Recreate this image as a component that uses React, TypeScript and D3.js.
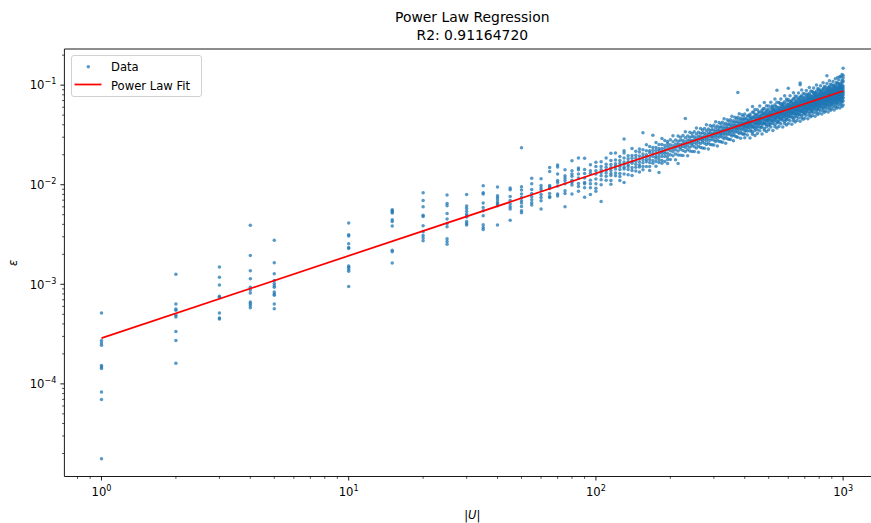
import React from 'react';
import * as d3 from 'd3';

const W = 871;
const H = 523;

const titleLines = ['Power Law Regression', 'R2: 0.91164720'];
const xLabelParts = ['|', 'U', '|'];
const yLabel = 'ε';
const legendLabels = ['Data', 'Power Law Fit'];
const xTickExps = [0, 1, 2, 3];
const yTickExps = [-4, -3, -2, -1];

// fitted power law (two end points of the straight log-log line)
const fitX = [1, 1000];
const fitEps = [2.88e-4, 0.0873];

// sparse columns: |U| value and the ε values observed there
const sparseColumns: [number, number[]][] = [
  [1, [5.15e-4, 2.72e-4, 2.57e-4, 2.44e-4, 1.53e-4, 1.48e-4, 1.43e-4, 8.28e-5, 6.98e-5, 1.77e-5]],
  [2, [1.26e-3, 6.34e-4, 5.65e-4, 5.48e-4, 4.88e-4, 4.7e-4, 3.35e-4, 2.72e-4, 1.61e-4]],
  [3, [1.49e-3, 1.18e-3, 9.84e-4, 7.57e-4, 7.4e-4, 5.15e-4, 4.59e-4, 4.48e-4]],
  [4, [3.92e-3, 1.95e-3, 1.37e-3, 1.14e-3, 9.33e-4, 8.77e-4, 8.18e-4, 6.64e-4, 6.4e-4, 6.11e-4, 5.83e-4]],
  [5, [2.77e-3, 1.65e-3, 1.28e-3, 1.09e-3, 1.02e-3, 9.7e-4, 9.33e-4, 8.37e-4, 8.0e-4, 7.75e-4, 6.34e-4, 5.69e-4]],
  [10, [4.12e-3, 3.14e-3, 3.05e-3, 2.55e-3, 2.34e-3, 2.29e-3, 1.53e-3, 1.48e-3, 1.42e-3, 1.35e-3, 9.5e-4]],
  [15, [5.61e-3, 5.48e-3, 5.31e-3, 5.19e-3, 4.45e-3, 4.28e-3, 3.84e-3, 2.2e-3, 2.12e-3, 1.64e-3]],
  [20, [8.31e-3, 6.95e-3, 6.01e-3, 4.95e-3, 4.8e-3, 3.87e-3, 3.37e-3, 3.1e-3, 2.91e-3, 2.74e-3]],
  [25, [7.87e-3, 6.49e-3, 6.15e-3, 5.15e-3, 4.52e-3, 4.08e-3, 3.78e-3, 2.87e-3, 2.69e-3, 2.53e-3]],
  [30, [8.0e-3, 6.1e-3, 5.78e-3, 5.43e-3, 5.07e-3, 4.88e-3, 4.73e-3, 4.28e-3, 4.08e-3, 3.94e-3]],
  [35, [9.77e-3, 8.31e-3, 8.05e-3, 6.55e-3, 5.91e-3, 5.48e-3, 4.88e-3, 3.96e-3, 3.72e-3, 3.55e-3]],
  [40, [9.48e-3, 7.75e-3, 7.4e-3, 7.02e-3, 6.64e-3, 6.4e-3, 6.15e-3, 3.94e-3]],
  [45, [9.27e-3, 8.91e-3, 7.62e-3, 6.95e-3, 6.4e-3, 6.01e-3, 5.7e-3, 4.41e-3]],
  [50, [2.35e-2, 9.55e-3, 8.85e-3, 8.05e-3, 7.45e-3, 6.9e-3, 6.55e-3, 6.05e-3, 5.48e-3, 5.24e-3]],
  [55, [1.16e-2, 1.02e-2, 8.98e-3, 8.18e-3, 7.57e-3, 7.06e-3, 6.59e-3, 6.25e-3]],
  [60, [1.15e-2, 9.84e-3, 9.27e-3, 8.85e-3, 8.0e-3, 7.45e-3, 6.9e-3, 5.7e-3]],
  [65, [1.49e-2, 1.36e-2, 9.84e-3, 9.55e-3, 9.18e-3, 8.18e-3, 7.62e-3, 7.45e-3]],
  [70, [1.58e-2, 1.51e-2, 1.28e-2, 1.1e-2, 1.05e-2, 9.7e-3, 8.05e-3, 7.69e-3]],
  [75, [1.41e-2, 1.23e-2, 1.17e-2, 1.1e-2, 1.02e-2, 8.71e-3, 8.18e-3, 6.01e-3]],
  [80, [1.74e-2, 1.38e-2, 1.28e-2, 1.22e-2, 1.11e-2, 1.05e-2, 9.93e-3, 8.05e-3]],
  [85, [0.0185, 0.0147, 0.0141, 0.0128, 0.0117, 0.0103, 0.0096, 0.0086]],
  [90, [0.0184, 0.0142, 0.013, 0.0117, 0.0105, 0.0102, 0.0093, 0.0075]],
  [95, [0.0159, 0.0138, 0.013, 0.0111, 0.0102, 0.0093, 0.008]],
  [100, [0.0168, 0.0152, 0.0138, 0.0128, 0.0114, 0.0102, 0.0092, 0.0086]],
];

const midColumns: [number, number[]][] = [
  [105, [0.017, 0.0152, 0.0141, 0.0132, 0.0123, 0.0112, 0.01, 0.0068]],
  [110, [0.0185, 0.0161, 0.015, 0.014, 0.0131, 0.0122, 0.0111]],
  [115, [0.0207, 0.0175, 0.016, 0.0149, 0.0139, 0.013, 0.0124, 0.011, 0.0101]],
  [120, [0.0208, 0.0177, 0.0162, 0.0154, 0.0144, 0.0131, 0.0123]],
  [125, [0.0192, 0.0175, 0.0163, 0.0152, 0.0142, 0.013, 0.0121, 0.011]],
  [130, [0.0288, 0.0219, 0.0208, 0.0185, 0.0169, 0.0161, 0.015, 0.0144, 0.0128, 0.0105]],
  [135, [0.0195, 0.0182, 0.017, 0.0159, 0.0152, 0.0142, 0.0126]],
  [140, [0.0231, 0.0197, 0.0184, 0.0171, 0.0164, 0.0149, 0.0139, 0.0124]],
  [145, [0.0217, 0.0198, 0.0185, 0.0172, 0.0161, 0.015, 0.0137]],
  [150, [0.0228, 0.0213, 0.0194, 0.0181, 0.0169, 0.0158, 0.0151, 0.0134]],
  [155, [0.0332, 0.0224, 0.0204, 0.0191, 0.0178, 0.0166, 0.0152, 0.0141]],
  [160, [0.0252, 0.022, 0.02, 0.0191, 0.0179, 0.017, 0.0152]],
  [165, [0.0242, 0.022, 0.021, 0.0192, 0.0179, 0.0167, 0.0152, 0.0139]],
  [170, [0.0314, 0.0236, 0.0221, 0.0206, 0.0192, 0.0175, 0.0164]],
  [175, [0.0265, 0.0237, 0.0221, 0.0206, 0.0192, 0.0184, 0.0171, 0.0153]],
  [180, [0.0254, 0.0231, 0.0221, 0.0206, 0.0192, 0.0179, 0.0167, 0.0133]],
  [185, [0.0291, 0.0254, 0.0231, 0.0216, 0.0206, 0.0192, 0.0175, 0.0164]],
  [190, [0.0278, 0.0248, 0.0231, 0.0216, 0.0206, 0.0192, 0.0171]],
  [195, [0.0271, 0.0259, 0.0242, 0.0225, 0.0206, 0.0192, 0.0179, 0.0163]],
  [200, [0.0283, 0.0252, 0.0235, 0.022, 0.02, 0.0179]],
  [205, [0.031, 0.027, 0.0246, 0.0229, 0.0214, 0.0195]],
  [210, [0.0282, 0.0257, 0.024, 0.0224, 0.0204, 0.0178]],
  [215, [0.0308, 0.0274, 0.0256, 0.0239, 0.0218, 0.0199, 0.0163]],
  [220, [0.0299, 0.0279, 0.0255, 0.0238, 0.0227, 0.0198]],
  [225, [0.0312, 0.0278, 0.0259, 0.0242, 0.0221, 0.0197]],
  [230, [0.0462, 0.034, 0.0297, 0.027, 0.0252, 0.0236, 0.0215]],
  [235, [0.0309, 0.0282, 0.0263, 0.0245, 0.0224, 0.0195]],
  [240, [0.0337, 0.03, 0.028, 0.0261, 0.0238, 0.0218]],
  [245, [0.0327, 0.0305, 0.0278, 0.026, 0.0248, 0.0216]],
  [250, [0.034, 0.0303, 0.0283, 0.0264, 0.0241, 0.0215]],
  [255, [0.0371, 0.0323, 0.0295, 0.0275, 0.0257, 0.0234]],
  [260, [0.0336, 0.0306, 0.0286, 0.0267, 0.0243, 0.0212]],
  [265, [0.0366, 0.0326, 0.0304, 0.0284, 0.0259, 0.0236]],
  [270, [0.0355, 0.0331, 0.0302, 0.0282, 0.0269, 0.0234]],
  [275, [0.0368, 0.0328, 0.0306, 0.0286, 0.0261, 0.0232]],
  [280, [0.0401, 0.0349, 0.0318, 0.0297, 0.0277, 0.0253]],
  [285, [0.0362, 0.0331, 0.0309, 0.0288, 0.0263, 0.0229]],
  [290, [0.0394, 0.0351, 0.0328, 0.0306, 0.0279, 0.0254]],
  [295, [0.0382, 0.0356, 0.0325, 0.0303, 0.0289, 0.0252]],
  [300, [0.0396, 0.0353, 0.0329, 0.0307, 0.028, 0.025]],
  [305, [0.043, 0.0374, 0.0342, 0.0319, 0.0297, 0.0271]],
  [310, [0.0389, 0.0355, 0.0331, 0.0309, 0.0281, 0.0245]],
  [315, [0.0422, 0.0376, 0.0351, 0.0327, 0.0299, 0.0272]],
  [320, [0.0408, 0.0381, 0.0347, 0.0324, 0.031, 0.027]],
  [325, [0.0423, 0.0377, 0.0352, 0.0328, 0.0299, 0.0267]],
  [330, [0.0459, 0.04, 0.0365, 0.034, 0.0318, 0.029]],
  [335, [0.0414, 0.0378, 0.0353, 0.0329, 0.03, 0.0261]],
  [340, [0.0449, 0.04, 0.0374, 0.0349, 0.0318, 0.029]],
  [345, [0.0434, 0.0405, 0.037, 0.0345, 0.0329, 0.0287]],
  [350, [0.045, 0.0401, 0.0374, 0.0349, 0.0318, 0.0284]],
  [355, [0.0488, 0.0425, 0.0387, 0.0361, 0.0337, 0.0308]],
  [360, [0.044, 0.0401, 0.0374, 0.0349, 0.0318, 0.0277]],
  [365, [0.0477, 0.0425, 0.0396, 0.037, 0.0337, 0.0308]],
  [370, [0.046, 0.0429, 0.0392, 0.0365, 0.0349, 0.0304]],
  [375, [0.0845, 0.0476, 0.0424, 0.0396, 0.037, 0.0337, 0.03]],
  [380, [0.0516, 0.0449, 0.041, 0.0382, 0.0357, 0.0326]],
  [385, [0.0465, 0.0424, 0.0396, 0.0369, 0.0337, 0.0293]],
  [390, [0.0503, 0.0448, 0.0418, 0.0391, 0.0356, 0.0325]],
  [395, [0.0486, 0.0453, 0.0413, 0.0386, 0.0368, 0.0321]],
];

const denseColumns: [number, number[]][] = [
  [400, [0.0514, 0.0458, 0.0427, 0.0408, 0.039, 0.0372, 0.0347, 0.0324, 0.0296]],
  [410, [0.0562, 0.049, 0.0447, 0.0426, 0.0407, 0.0389, 0.0371, 0.0347, 0.0316]],
  [420, [0.0511, 0.0488, 0.0466, 0.0435, 0.0415, 0.0397, 0.037, 0.0346, 0.0294]],
  [430, [0.0612, 0.0533, 0.0475, 0.0454, 0.0414, 0.0386, 0.0377, 0.0336, 0.0321]],
  [440, [0.0569, 0.0507, 0.0474, 0.0442, 0.0412, 0.0403, 0.0367, 0.0351, 0.0313]],
  [450, [0.0566, 0.0505, 0.0471, 0.045, 0.043, 0.041, 0.0383, 0.0357, 0.0326]],
  [460, [0.0618, 0.0538, 0.0491, 0.0469, 0.0448, 0.0428, 0.0408, 0.0381, 0.0348]],
  [470, [0.0561, 0.0536, 0.0511, 0.0477, 0.0456, 0.0435, 0.0406, 0.0379, 0.0323]],
  [480, [0.0671, 0.0584, 0.052, 0.0497, 0.0453, 0.0423, 0.0413, 0.0368, 0.0352]],
  [490, [0.0622, 0.0554, 0.0518, 0.0483, 0.045, 0.044, 0.0402, 0.0383, 0.0342]],
  [500, [0.0618, 0.0551, 0.0514, 0.0491, 0.0469, 0.0448, 0.0418, 0.039, 0.0356]],
  [510, [0.0673, 0.0587, 0.0535, 0.0511, 0.0488, 0.0466, 0.0445, 0.0415, 0.0379]],
  [520, [0.061, 0.0582, 0.0556, 0.0519, 0.0496, 0.0473, 0.0442, 0.0412, 0.0351]],
  [530, [0.0728, 0.0634, 0.0565, 0.054, 0.0492, 0.0459, 0.0449, 0.04, 0.0382]],
  [540, [0.089, 0.0674, 0.0601, 0.0561, 0.0523, 0.0488, 0.0477, 0.0435, 0.0416, 0.0371]],
  [550, [0.0669, 0.0596, 0.0556, 0.0531, 0.0507, 0.0484, 0.0452, 0.0422, 0.0385]],
  [560, [0.0727, 0.0634, 0.0578, 0.0552, 0.0527, 0.0503, 0.048, 0.0449, 0.0409]],
  [570, [0.0658, 0.0628, 0.06, 0.056, 0.0535, 0.051, 0.0477, 0.0445, 0.0379]],
  [580, [0.0784, 0.0683, 0.0608, 0.0581, 0.053, 0.0495, 0.0483, 0.0431, 0.0411]],
  [590, [0.0725, 0.0646, 0.0604, 0.0563, 0.0525, 0.0513, 0.0468, 0.0447, 0.0399]],
  [600, [0.093, 0.0719, 0.0641, 0.0598, 0.0571, 0.0545, 0.0521, 0.0486, 0.0453, 0.0413]],
  [610, [0.0781, 0.068, 0.062, 0.0592, 0.0565, 0.054, 0.0516, 0.0482, 0.0439]],
  [620, [0.0705, 0.0673, 0.0643, 0.06, 0.0573, 0.0547, 0.0511, 0.0477, 0.0406]],
  [630, [0.084, 0.0731, 0.0651, 0.0622, 0.0568, 0.053, 0.0518, 0.0461, 0.044]],
  [640, [0.0776, 0.0691, 0.0646, 0.0602, 0.0562, 0.0549, 0.0501, 0.0478, 0.0426]],
  [650, [0.0768, 0.0684, 0.0638, 0.061, 0.0582, 0.0556, 0.0519, 0.0484, 0.0441]],
  [660, [0.0833, 0.0726, 0.0662, 0.0632, 0.0603, 0.0576, 0.055, 0.0514, 0.0469]],
  [670, [0.105, 0.101, 0.0752, 0.0718, 0.0685, 0.064, 0.0611, 0.0583, 0.0545, 0.0508, 0.0433]],
  [680, [0.0894, 0.0779, 0.0694, 0.0663, 0.0605, 0.0564, 0.0551, 0.0491, 0.0469]],
  [690, [0.0825, 0.0736, 0.0687, 0.0641, 0.0598, 0.0584, 0.0533, 0.0509, 0.0454]],
  [700, [0.0816, 0.0727, 0.0679, 0.0648, 0.0619, 0.0591, 0.0552, 0.0515, 0.0469]],
  [710, [0.0885, 0.0771, 0.0703, 0.0671, 0.0641, 0.0612, 0.0584, 0.0546, 0.0498]],
  [720, [0.0798, 0.0762, 0.0727, 0.0679, 0.0648, 0.0619, 0.0578, 0.054, 0.0459]],
  [730, [0.0948, 0.0826, 0.0736, 0.0703, 0.0641, 0.0598, 0.0585, 0.0521, 0.0497]],
  [740, [0.0874, 0.0779, 0.0728, 0.0679, 0.0633, 0.0619, 0.0565, 0.0539, 0.0481]],
  [750, [0.0864, 0.077, 0.0719, 0.0687, 0.0656, 0.0626, 0.0584, 0.0545, 0.0497]],
  [760, [0.0936, 0.0816, 0.0744, 0.071, 0.0678, 0.0648, 0.0618, 0.0577, 0.0527]],
  [770, [0.0843, 0.0805, 0.0769, 0.0718, 0.0685, 0.0655, 0.0611, 0.057, 0.0486]],
  [780, [0.1002, 0.0872, 0.0777, 0.0742, 0.0677, 0.0632, 0.0618, 0.055, 0.0525]],
  [790, [0.0923, 0.0823, 0.0768, 0.0717, 0.0669, 0.0654, 0.0596, 0.0569, 0.0507]],
  [800, [0.0912, 0.0813, 0.0758, 0.0724, 0.0692, 0.0661, 0.0616, 0.0575, 0.0524]],
  [810, [0.0987, 0.086, 0.0784, 0.0749, 0.0715, 0.0683, 0.0652, 0.0609, 0.0555]],
  [820, [0.0889, 0.0849, 0.081, 0.0756, 0.0722, 0.069, 0.0644, 0.0601, 0.0512]],
  [830, [0.1055, 0.0918, 0.0818, 0.0782, 0.0713, 0.0665, 0.065, 0.0579, 0.0553]],
  [840, [0.0971, 0.0866, 0.0808, 0.0754, 0.0704, 0.0688, 0.0627, 0.0599, 0.0534]],
  [850, [0.0959, 0.0854, 0.0797, 0.0761, 0.0727, 0.0694, 0.0648, 0.0605, 0.0551]],
  [860, [0.124, 0.1037, 0.0903, 0.0824, 0.0786, 0.0751, 0.0717, 0.0685, 0.064, 0.0584]],
  [870, [0.0933, 0.0891, 0.0851, 0.0794, 0.0758, 0.0724, 0.0676, 0.0631, 0.0537]],
  [880, [0.1107, 0.0964, 0.0859, 0.082, 0.0748, 0.0698, 0.0683, 0.0608, 0.0581]],
  [890, [0.1019, 0.0908, 0.0848, 0.0791, 0.0738, 0.0721, 0.0658, 0.0628, 0.056]],
  [900, [0.1005, 0.0896, 0.0836, 0.0798, 0.0762, 0.0728, 0.0679, 0.0634, 0.0578]],
  [910, [0.1087, 0.0947, 0.0864, 0.0824, 0.0787, 0.0752, 0.0718, 0.067, 0.0611]],
  [920, [0.0977, 0.0933, 0.0891, 0.0832, 0.0794, 0.0758, 0.0708, 0.0661, 0.0563]],
  [930, [0.1159, 0.1009, 0.0899, 0.0859, 0.0783, 0.0731, 0.0714, 0.0636, 0.0608]],
  [940, [0.1066, 0.095, 0.0887, 0.0828, 0.0772, 0.0755, 0.0688, 0.0657, 0.0586]],
  [950, [0.119, 0.1051, 0.0937, 0.0874, 0.0835, 0.0797, 0.0761, 0.071, 0.0663, 0.0604]],
  [960, [0.1136, 0.0989, 0.0903, 0.0861, 0.0823, 0.0786, 0.075, 0.0701, 0.0639]],
  [970, [0.122, 0.1021, 0.0975, 0.0931, 0.0869, 0.083, 0.0792, 0.074, 0.069, 0.0588]],
  [980, [0.121, 0.1053, 0.0939, 0.0897, 0.0818, 0.0763, 0.0746, 0.0665, 0.0635]],
  [990, [0.128, 0.1113, 0.0992, 0.0926, 0.0864, 0.0806, 0.0788, 0.0719, 0.0686, 0.0612]],
  [1000, [0.148, 0.125, 0.118, 0.1099, 0.098, 0.0914, 0.0873, 0.0834, 0.0796, 0.0743, 0.0693, 0.0632]],
];

// in-between sizes in the dense part of the cloud
const offsetColumns: [number, number[]][] = [
  [405, [0.0463, 0.0422, 0.0385, 0.0351]],
  [415, [0.0494, 0.0441, 0.0402, 0.0375]],
  [425, [0.046, 0.0429, 0.0391, 0.0349]],
  [435, [0.0538, 0.048, 0.0428, 0.0381]],
  [445, [0.05, 0.0456, 0.0416, 0.0379]],
  [455, [0.0533, 0.0475, 0.0434, 0.0405]],
  [465, [0.0496, 0.0462, 0.0422, 0.0376]],
  [475, [0.0579, 0.0516, 0.046, 0.041]],
  [485, [0.0537, 0.049, 0.0447, 0.0407]],
  [495, [0.0572, 0.051, 0.0465, 0.0434]],
  [505, [0.0531, 0.0495, 0.0452, 0.0403]],
  [515, [0.0619, 0.0552, 0.0492, 0.0438]],
  [525, [0.0574, 0.0523, 0.0477, 0.0435]],
  [535, [0.061, 0.0544, 0.0496, 0.0463]],
  [545, [0.0565, 0.0527, 0.0481, 0.0429]],
  [555, [0.0658, 0.0587, 0.0523, 0.0466]],
  [565, [0.0609, 0.0556, 0.0507, 0.0462]],
  [575, [0.0648, 0.0577, 0.0526, 0.0491]],
  [585, [0.0599, 0.0559, 0.051, 0.0455]],
  [595, [0.0697, 0.0621, 0.0554, 0.0494]],
  [605, [0.0645, 0.0588, 0.0536, 0.0489]],
  [615, [0.0685, 0.061, 0.0556, 0.0519]],
  [625, [0.0633, 0.0591, 0.0539, 0.048]],
  [635, [0.0736, 0.0656, 0.0585, 0.0521]],
  [645, [0.068, 0.062, 0.0565, 0.0516]],
  [655, [0.0721, 0.0643, 0.0586, 0.0547]],
  [665, [0.0666, 0.0622, 0.0567, 0.0505]],
  [675, [0.0774, 0.069, 0.0615, 0.0548]],
  [685, [0.0715, 0.0652, 0.0594, 0.0542]],
  [695, [0.0757, 0.0675, 0.0616, 0.0574]],
  [705, [0.0699, 0.0652, 0.0595, 0.053]],
  [715, [0.0812, 0.0723, 0.0645, 0.0575]],
  [725, [0.0749, 0.0683, 0.0623, 0.0568]],
  [735, [0.0793, 0.0707, 0.0645, 0.0601]],
  [745, [0.0732, 0.0683, 0.0623, 0.0555]],
  [755, [0.0849, 0.0757, 0.0674, 0.0601]],
  [765, [0.0783, 0.0714, 0.0651, 0.0594]],
  [775, [0.0829, 0.0739, 0.0674, 0.0629]],
  [785, [0.0764, 0.0713, 0.065, 0.058]],
  [795, [0.0886, 0.079, 0.0704, 0.0628]],
  [805, [0.0817, 0.0745, 0.0679, 0.062]],
  [815, [0.0864, 0.077, 0.0702, 0.0655]],
  [825, [0.0797, 0.0743, 0.0678, 0.0604]],
  [835, [0.0923, 0.0822, 0.0733, 0.0654]],
  [845, [0.085, 0.0775, 0.0707, 0.0645]],
  [855, [0.0899, 0.0801, 0.0731, 0.0682]],
  [865, [0.0828, 0.0773, 0.0705, 0.0628]],
  [875, [0.0959, 0.0855, 0.0762, 0.0679]],
  [885, [0.0883, 0.0805, 0.0735, 0.067]],
  [895, [0.0934, 0.0832, 0.0759, 0.0708]],
  [905, [0.086, 0.0802, 0.0731, 0.0652]],
  [915, [0.0995, 0.0887, 0.0791, 0.0705]],
  [925, [0.0916, 0.0835, 0.0762, 0.0695]],
  [935, [0.0968, 0.0863, 0.0787, 0.0734]],
  [945, [0.0891, 0.0831, 0.0758, 0.0676]],
  [955, [0.1031, 0.0919, 0.0819, 0.073]],
  [965, [0.0949, 0.0865, 0.0789, 0.072]],
  [975, [0.1002, 0.0893, 0.0815, 0.076]],
  [985, [0.0922, 0.086, 0.0785, 0.0699]],
  [995, [0.1068, 0.0952, 0.0848, 0.0756]],
];

const FONT = "'DejaVu Sans', sans-serif";
const FS = 11.6;

export default function App() {
  const left = 64.4;
  const right = 880.2;
  const top = 49;
  const bottom = 476.5;
  const x = d3.scaleLog().domain([Math.pow(10, -0.15), Math.pow(10, 3.15)]).range([left, right]);
  const y = d3.scaleLog().domain([Math.pow(10, -4.93), Math.pow(10, -0.637)]).range([bottom, top]);

  const points: { u: number; e: number }[] = [];
  [sparseColumns, midColumns, denseColumns, offsetColumns].forEach((cols) =>
    cols.forEach(([u, es]) => es.forEach((e) => points.push({ u, e })))
  );

  const [xd0, xd1] = x.domain();
  const [yd0, yd1] = y.domain();
  const minorX: number[] = [];
  for (let k = -1; k <= 3; k++) for (let m = 2; m <= 9; m++) {
    const v = m * Math.pow(10, k);
    if (v > xd0 && v < xd1) minorX.push(v);
  }
  const minorY: number[] = [];
  for (let k = -5; k <= -1; k++) for (let m = 2; m <= 9; m++) {
    const v = m * Math.pow(10, k);
    if (v > yd0 && v < yd1) minorY.push(v);
  }

  const line = d3.line<number>().x((_, i) => x(fitX[i])).y((d) => y(d));
  const cx = (left + right) / 2;
  const cy = (top + bottom) / 2;

  return (
    <svg width={W} height={H} style={{ position: 'absolute', left: 0, top: 0, background: '#fff' }} fontFamily={FONT}>
      <defs>
        <clipPath id="plot">
          <rect x={left} y={top} width={right - left} height={bottom - top} />
        </clipPath>
      </defs>
      <rect x={0} y={0} width={W} height={H} fill="#fff" />
      <g clipPath="url(#plot)">
        {points.map((p, i) => (
          <circle key={i} cx={x(p.u)} cy={y(p.e)} r={1.75} fill="#1f77b4" fillOpacity={0.75} />
        ))}
        <path d={line(fitEps) || ''} fill="none" stroke="#ff0000" strokeWidth={1.75} />
      </g>
      {/* spines */}
      <g stroke="#000" strokeWidth={0.9} fill="none">
        <line x1={left} y1={top} x2={left} y2={bottom} />
        <line x1={left} y1={bottom} x2={right} y2={bottom} />
        <line x1={left} y1={top} x2={right} y2={top} />
        <line x1={right} y1={top} x2={right} y2={bottom} />
      </g>
      {/* ticks */}
      <g stroke="#000" strokeWidth={0.9}>
        {xTickExps.map((k) => (
          <line key={'xM' + k} x1={x(Math.pow(10, k))} x2={x(Math.pow(10, k))} y1={bottom} y2={bottom + 4} />
        ))}
        {minorX.map((v, i) => (
          <line key={'xm' + i} x1={x(v)} x2={x(v)} y1={bottom} y2={bottom + 2.3} strokeWidth={0.7} />
        ))}
        {yTickExps.map((k) => (
          <line key={'yM' + k} y1={y(Math.pow(10, k))} y2={y(Math.pow(10, k))} x1={left} x2={left - 4} />
        ))}
        {minorY.map((v, i) => (
          <line key={'ym' + i} y1={y(v)} y2={y(v)} x1={left} x2={left - 2.3} strokeWidth={0.7} />
        ))}
      </g>
      <g fontSize={FS} fill="#000">
        {xTickExps.map((k) => (
          <text key={'xl' + k} x={x(Math.pow(10, k))} y={496} textAnchor="middle">
            10<tspan fontSize={8.1} dy={-5}>{String(k).replace('-', '\u2212')}</tspan>
          </text>
        ))}
        {yTickExps.map((k) => (
          <text key={'yl' + k} x={left - 8} y={y(Math.pow(10, k)) + 4.3} textAnchor="end">
            10<tspan fontSize={8.1} dy={-5}>{String(k).replace('-', '\u2212')}</tspan>
          </text>
        ))}
      </g>
      {/* axis labels */}
      <text x={cx} y={519} textAnchor="middle" fontSize={FS}>
        <tspan>{xLabelParts[0]}</tspan>
        <tspan fontStyle="italic">{xLabelParts[1]}</tspan>
        <tspan>{xLabelParts[2]}</tspan>
      </text>
      <text transform={`translate(16.5, ${cy}) rotate(-90)`} textAnchor="middle" fontSize={FS} fontStyle="italic">
        {yLabel}
      </text>
      {/* title */}
      {titleLines.map((t, i) => (
        <text key={t} x={cx} y={22 + i * 18} textAnchor="middle" fontSize={13.9}>
          {t}
        </text>
      ))}
      {/* legend */}
      <g>
        <rect x={71.5} y={55.5} width={130} height={41} rx={2.5} fill="#fff" fillOpacity={0.8} stroke="#cccccc" strokeWidth={0.9} />
        <circle cx={88.3} cy={66.8} r={1.75} fill="#1f77b4" fillOpacity={0.75} />
        <line x1={74.5} x2={101.5} y1={84.5} y2={84.5} stroke="#ff0000" strokeWidth={1.75} />
        <text x={111} y={70.8} fontSize={FS}>{legendLabels[0]}</text>
        <text x={111} y={89.5} fontSize={FS}>{legendLabels[1]}</text>
      </g>
    </svg>
  );
}
